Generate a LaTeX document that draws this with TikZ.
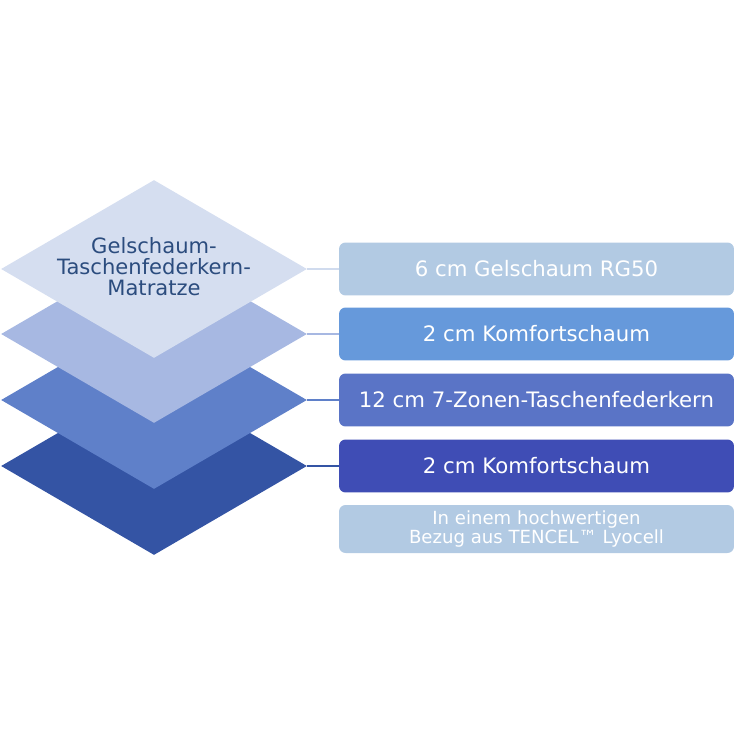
\documentclass[tikz,border=0pt]{standalone}
\usepackage{fontspec}
\setmainfont{DejaVu Sans}
\usetikzlibrary{shapes.geometric}
\definecolor{layerA}{HTML}{D5DEF0}
\definecolor{layerB}{HTML}{A7B8E2}
\definecolor{layerC}{HTML}{5F80C9}
\definecolor{layerD}{HTML}{3454A4}
\definecolor{boxA}{HTML}{B2CAE3}
\definecolor{boxB}{HTML}{6699DB}
\definecolor{boxC}{HTML}{5A74C6}
\definecolor{boxD}{HTML}{3F4DB5}
\definecolor{titleblue}{HTML}{2B4C7E}

\begin{document}
\begin{tikzpicture}[x=0.02cm, y=-0.02cm,
  layer/.style={diamond, draw=none, inner sep=0pt, minimum width=6.12cm, minimum height=3.56cm},
  infobox/.style={rectangle, rounded corners=1.3mm, draw=none, inner sep=0pt, minimum width=7.9cm, minimum height=1.06cm, text=white, font=\fontsize{12.1}{13}\selectfont},
  link/.style={line width=1.1pt}]
\useasboundingbox (0,0) rectangle (736,736);
% layers, bottom first
\node[layer, fill=layerD] (d4) at (154,466) {};
\node[layer, fill=layerC] (d3) at (154,400) {};
\node[layer, fill=layerB] (d2) at (154,334) {};
\node[layer, fill=layerA] (d1) at (154,269) {};
\node[align=center, text=titleblue, font=\fontsize{12}{11.9}\selectfont] (title) at (154,267) {Gelschaum-\\Taschenfederkern-\\Matratze};
% boxes
\node[infobox, fill=boxA] (b1) at (536.5,269) {6 cm Gelschaum RG50};
\node[infobox, fill=boxB] (b2) at (536.5,334) {2 cm Komfortschaum};
\node[infobox, fill=boxC] (b3) at (536.5,400) {12 cm 7-Zonen-Taschenfederkern};
\node[infobox, fill=boxD] (b4) at (536.5,466) {2 cm Komfortschaum};
\node[infobox, fill=boxA, minimum height=0.96cm, align=center, font=\fontsize{10.3}{11.3}\selectfont] (b5) at (536.5,529) {In einem hochwertigen\\Bezug aus TENCEL™ Lyocell};
% links
\draw[link, color=layerA!85!boxA] (d1.east) -- (b1.west);
\draw[link, color=layerB] (d2.east) -- (b2.west);
\draw[link, color=layerC] (d3.east) -- (b3.west);
\draw[link, color=layerD] (d4.east) -- (b4.west);
\end{tikzpicture}
\end{document}
